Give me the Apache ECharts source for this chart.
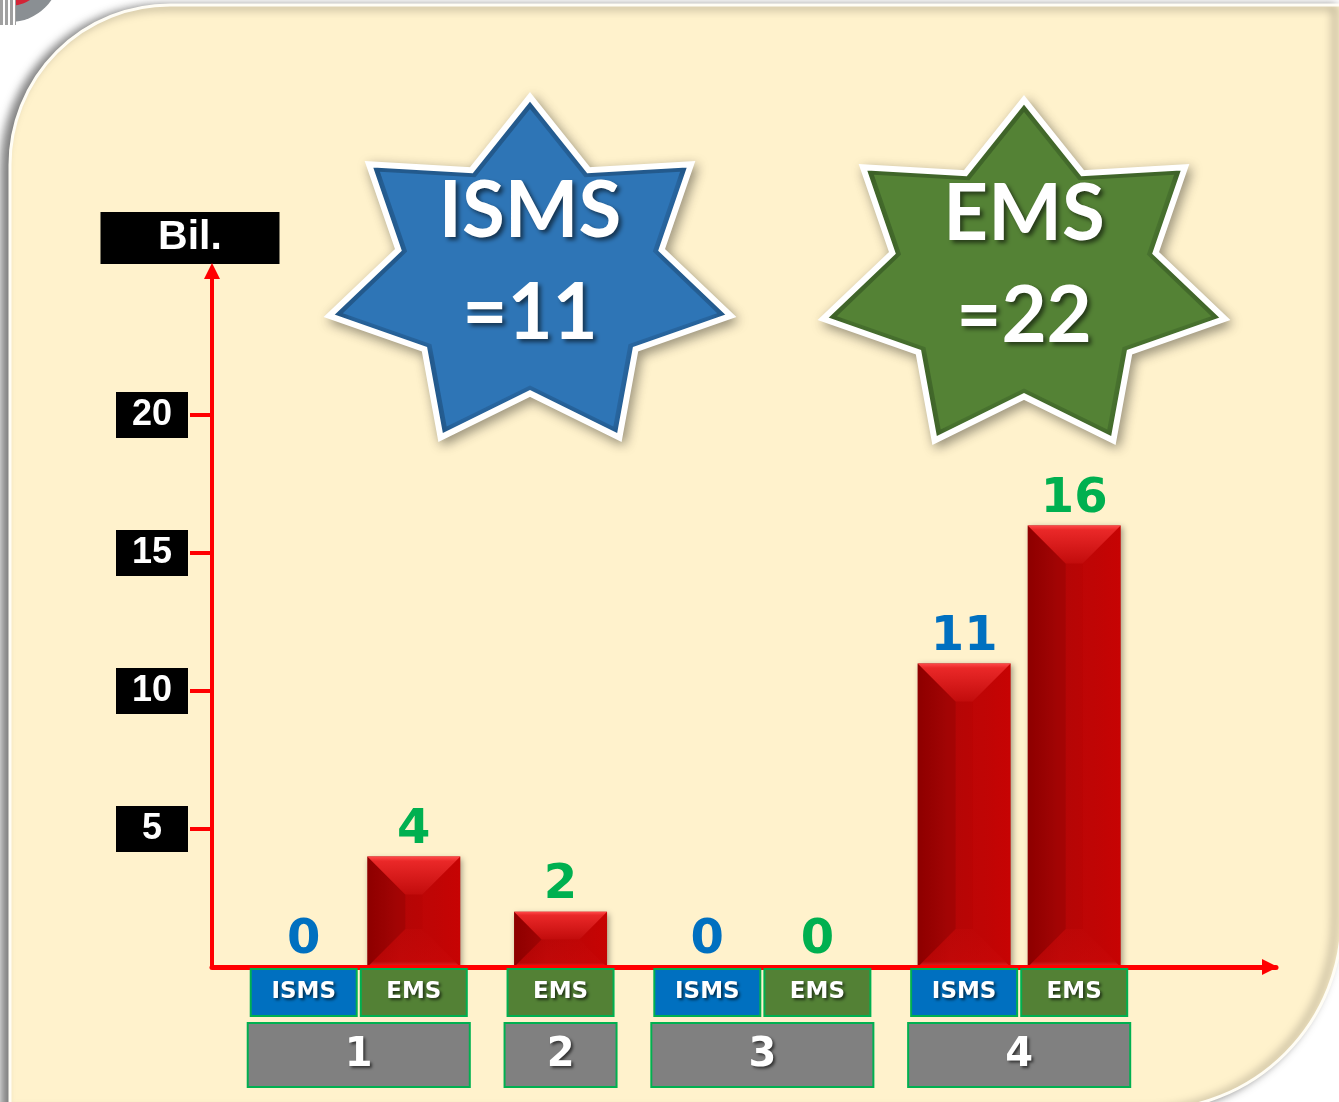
<!DOCTYPE html>
<html><head><meta charset="utf-8">
<script src="https://cdn.jsdelivr.net/npm/echarts@6/dist/echarts.min.js"></script>
<style>html,body{margin:0;padding:0;background:#fff}#chart{width:1339px;height:1102px}</style>
</head><body><div id="chart"></div>
<script>
// ---- data ----
const categories = ['ISMS', 'EMS', 'EMS', 'ISMS', 'EMS', 'ISMS', 'EMS'];
const groups = ['1', '1', '2', '3', '3', '4', '4'];
const values = [0, 4, 2, 0, 0, 11, 16];
const yTickValues = [5, 10, 15, 20];
const yAxisName = 'Bil.';
const totalNames = ['ISMS', 'EMS'];
const totalValues = [11, 22];

// ---- styling ----
const BOX_COLORS = { ISMS: '#0070C0', EMS: '#538135' };
const LABEL_COLORS = { ISMS: '#0070C0', EMS: '#00B050' };
const STAR_OUTER = ['#2968A3', '#4A7530'];
const STAR_INNER = ['#2E75B6', '#548235'];
const RED = '#FF0000';

// slot layout on the category axis (3 slots apart inside a group, 4 between groups)
const slots = [];
let p = 2;
categories.forEach((c, i) => { if (i > 0) p += (groups[i] === groups[i - 1] ? 3 : 4); slots.push(p); });
const SLOT_COUNT = 29;
const axisCats = Array.from({ length: SLOT_COUNT }, (_, i) => 's' + i);
const slotLabel = {};
slots.forEach((s, i) => { slotLabel[s] = categories[i]; });

const groupSpans = [];
groups.forEach((g, i) => {
  const last = groupSpans[groupSpans.length - 1];
  if (last && last.name === g) last.end = slots[i];
  else groupSpans.push({ name: g, start: slots[i], end: slots[i] });
});

const BAR_W = 93;

function starPts(cx, cy, R, r, sy) {
  const pts = [];
  for (let i = 0; i < 14; i++) {
    const a = -Math.PI / 2 + i * Math.PI / 7;
    const rad = i % 2 === 0 ? R : r;
    pts.push([cx + rad * Math.cos(a), cy + sy * rad * Math.sin(a)]);
  }
  return pts;
}

const catRich = {};
['ISMS', 'EMS'].forEach(k => {
  catRich[k] = {
    backgroundColor: BOX_COLORS[k], borderColor: '#00B050', borderWidth: 2,
    color: '#fff', fontSize: 23, fontWeight: 'bold', fontFamily: 'DejaVu Sans',
    width: 104, height: 45, lineHeight: 45, align: 'center',
    textShadowColor: 'rgba(0,0,0,0.6)', textShadowBlur: 3, textShadowOffsetX: 2, textShadowOffsetY: 2
  };
});

const stars = [];
[[530, 276], [1024, 279]].forEach((c, i) => {
  stars.push({
    type: 'polygon', z: 100,
    shape: { points: starPts(c[0], c[1], 206, 135, 0.87) },
    style: { fill: STAR_OUTER[i], stroke: '#fff', lineWidth: 6, shadowBlur: 12, shadowColor: 'rgba(0,0,0,0.35)', shadowOffsetX: 3, shadowOffsetY: 4 }
  });
  stars.push({
    type: 'polygon', z: 100,
    shape: { points: starPts(c[0], c[1], 192, 126, 0.87) },
    style: { fill: STAR_INNER[i] }
  });
  const txt = [totalNames[i], '=' + totalValues[i]];
  [c[1] - 64, c[1] + 38].forEach((y, j) => {
    stars.push({
      type: 'text', z: 101, x: c[0], y: y,
      style: {
        text: txt[j], fill: '#fff', font: 'bold 78px Lato',
        align: 'center', verticalAlign: 'middle', textAlign: 'center', textVerticalAlign: 'middle',
        textShadowColor: 'rgba(0,0,0,0.55)', textShadowBlur: 4, textShadowOffsetX: 3, textShadowOffsetY: 3
      }
    });
  });
});

const option = {
  backgroundColor: '#ffffff',
  animation: false,
  graphic: [
    { type: 'circle', z: -20, shape: { cx: 10, cy: -28, r: 50 }, style: { fill: '#8A8F93' } },
    { type: 'circle', z: -19, shape: { cx: 10, cy: -30, r: 36 }, style: { fill: '#D32436' } },
    { type: 'rect', z: -18, shape: { x: 0, y: 0, width: 16, height: 25 }, style: { fill: '#A0A0A0' } },
    { type: 'rect', z: -17, shape: { x: 3, y: 0, width: 2, height: 25 }, style: { fill: '#fff' } },
    { type: 'rect', z: -17, shape: { x: 8, y: 0, width: 2, height: 25 }, style: { fill: '#fff' } },
    { type: 'rect', z: -17, shape: { x: 13, y: 0, width: 2, height: 25 }, style: { fill: '#fff' } },
    {
      type: 'rect', z: -10,
      shape: { x: 10, y: 5, width: 1332, height: 1105, r: [160, 0, 193, 0] },
      style: { fill: '#FFF2CC', stroke: '#FFFDF5', lineWidth: 3, shadowBlur: 10, shadowColor: 'rgba(0,0,0,0.5)', shadowOffsetX: -7, shadowOffsetY: 2 }
    }
  ].concat(stars),
  grid: { left: 212, top: 277, right: 63, bottom: 135, containLabel: false },
  xAxis: {
    type: 'category', data: axisCats, z: 10,
    axisLine: { show: true, lineStyle: { color: RED, width: 5 }, symbol: ['none', 'triangle'], symbolSize: [16, 16], symbolOffset: [0, -6] },
    axisTick: { show: false },
    splitLine: { show: false },
    axisLabel: {
      interval: 0, margin: 3, hideOverlap: false,
      formatter: (v, i) => slotLabel[i] ? `{${slotLabel[i]}|${slotLabel[i]}}` : '',
      rich: catRich
    }
  },
  yAxis: {
    type: 'value', min: 0, max: 25, interval: 5,
    name: `{b|${yAxisName}}{s|}`, nameLocation: 'end', nameGap: 13,
    nameTextStyle: {
      rich: {
        b: { backgroundColor: '#000', color: '#fff', fontSize: 41, fontWeight: 'bold', fontFamily: 'Liberation Sans', width: 179, height: 52, lineHeight: 52, align: 'center' },
        s: { width: 44 }
      }
    },
    axisLine: { show: true, lineStyle: { color: RED, width: 4 }, symbol: ['none', 'triangle'], symbolSize: [16, 16], symbolOffset: [0, 6] },
    axisTick: { show: true, length: 22, lineStyle: { color: RED, width: 4 }, customValues: yTickValues },
    splitLine: { show: false },
    axisLabel: {
      margin: 24, customValues: yTickValues,
      formatter: v => `{b|${v}}`,
      rich: { b: { backgroundColor: '#000', color: '#fff', fontSize: 36, fontWeight: 'bold', fontFamily: 'Liberation Sans', width: 72, height: 46, lineHeight: 46, align: 'center' } }
    }
  },
  series: [
    {
      type: 'bar', barWidth: BAR_W, z: 2,
      data: values.map((v, i) => ({ value: [slots[i], v], label: { color: LABEL_COLORS[categories[i]] } })),
      itemStyle: {
        color: { type: 'linear', x: 0, y: 0, x2: 1, y2: 0, colorStops: [
          { offset: 0, color: '#9A0000' }, { offset: 0.35, color: '#B40606' }, { offset: 0.7, color: '#BC0404' }, { offset: 1, color: '#C40202' }] },
        shadowBlur: 6, shadowColor: 'rgba(0,0,0,0.35)', shadowOffsetX: 2, shadowOffsetY: 2
      },
      label: { show: true, position: 'top', distance: 2, fontSize: 48, lineHeight: 48, fontWeight: 'bold', fontFamily: 'DejaVu Sans', formatter: p => p.value[1] }
    },
    {
      type: 'custom', z: 3, silent: true,
      data: values.map((v, i) => [slots[i], v]),
      renderItem: (params, api) => {
        const top = api.coord([api.value(0), api.value(1)]);
        const base = api.coord([api.value(0), 0]);
        const h = base[1] - top[1];
        if (h < 1) return { type: 'group', children: [] };
        const x0 = top[0] - BAR_W / 2, x1 = top[0] + BAR_W / 2, yt = top[1], yb = base[1];
        const b = Math.min(38, h / 2, BAR_W / 2);
        return {
          type: 'group', children: [
            { type: 'polygon', shape: { points: [[x0, yt], [x0 + b, yt + b], [x0 + b, yb - b], [x0, yb]] },
              style: { fill: 'rgba(90,0,0,0.18)' } },
            { type: 'polygon', shape: { points: [[x1, yt], [x1, yb], [x1 - b, yb - b], [x1 - b, yt + b]] },
              style: { fill: 'rgba(255,30,30,0.06)' } },
            { type: 'polygon', shape: { points: [[x0, yb], [x0 + b, yb - b], [x1 - b, yb - b], [x1, yb]] },
              style: { fill: { type: 'linear', x: 0, y: 0, x2: 0, y2: 1, colorStops: [{ offset: 0, color: 'rgba(200,10,10,0.3)' }, { offset: 0.85, color: 'rgba(205,10,10,0.5)' }, { offset: 1, color: 'rgba(235,60,60,0.8)' }] } } },
            { type: 'polygon', shape: { points: [[x0, yt], [x1, yt], [x1 - b, yt + b], [x0 + b, yt + b]] },
              style: { fill: { type: 'linear', x: 0, y: 0, x2: 0, y2: 1, colorStops: [{ offset: 0, color: '#FF4A4A' }, { offset: 0.12, color: '#EA2828' }, { offset: 1, color: '#C20C0C' }] } } }
          ]
        };
      }
    },
    {
      type: 'custom', z: 4, silent: true,
      encode: { x: [0, 1], y: 2 },
      data: groupSpans.map((g, i) => [g.start, g.end, i]),
      renderItem: (params, api) => {
        const a = api.coord([api.value(0), 0]);
        const c = api.coord([api.value(1), 0]);
        const half = 56;
        const x = a[0] - half, w = c[0] - a[0] + 2 * half;
        const y = a[1] + 56, h = 64;
        return {
          type: 'group', children: [
            { type: 'rect', shape: { x: x, y: y, width: w, height: h }, style: { fill: '#808080', stroke: '#00B050', lineWidth: 2 } },
            { type: 'text', x: x + w / 2, y: y + h / 2 + 1,
              style: { text: groupSpans[params.dataIndex].name, fill: '#fff', font: 'bold 40px "DejaVu Sans"',
                align: 'center', verticalAlign: 'middle', textAlign: 'center', textVerticalAlign: 'middle',
                textShadowColor: 'rgba(0,0,0,0.6)', textShadowBlur: 3, textShadowOffsetX: 2, textShadowOffsetY: 2 } }
          ]
        };
      }
    }
  ]
};

const chart = echarts.init(document.getElementById('chart'), null, { renderer: 'canvas' });
chart.setOption(option);
</script>
</body></html>
